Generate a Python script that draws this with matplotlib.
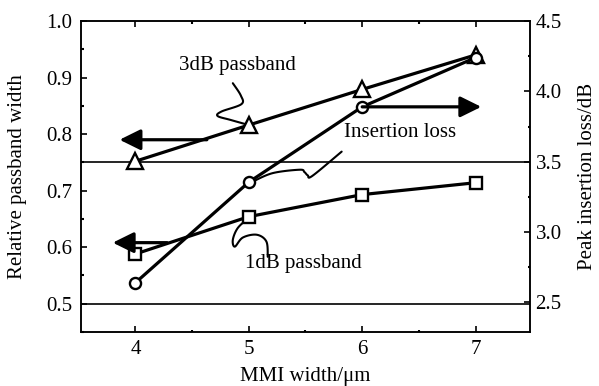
import numpy as np
import matplotlib
matplotlib.use("Agg")
import matplotlib.pyplot as plt
from matplotlib.ticker import MultipleLocator

# ---- data ----
mmi_width = [4, 5, 6, 7]
passband_3db = [0.752, 0.816, 0.879, 0.940]
passband_1db = [0.588, 0.654, 0.693, 0.714]
insertion_loss = [2.64, 3.355, 3.89, 4.24]

x_ticks = [4, 5, 6, 7]
left_ticks = [0.5, 0.6, 0.7, 0.8, 0.9, 1.0]
right_ticks = [2.5, 3.0, 3.5, 4.0, 4.5]

plt.rcParams['font.family'] = ['Liberation Serif', 'DejaVu Serif']
plt.rcParams['mathtext.fontset'] = 'stix'
FS = 15

fig = plt.figure(figsize=(5.99, 3.86), dpi=100)
ax = fig.add_axes([81/599, 1-332/386, 449/599, 311/386])
ax2 = ax.twinx()

ax.set_xlim(3.52, 7.48)
ax.set_ylim(0.45, 1.0)
ax2.set_ylim(2.29, 4.5)

for a in (ax, ax2):
    for s in a.spines.values():
        s.set_linewidth(1.1)

# horizontal reference lines
ax.axhline(0.75, color='k', lw=1.2, zorder=1)
ax.axhline(0.5, color='k', lw=1.2, zorder=1)

mk = dict(color='k', lw=2.3, mfc='white', mec='k', mew=1.7)
ax.plot(mmi_width, passband_3db, marker='^', ms=11, zorder=3, **mk)
ax.plot(mmi_width, passband_1db, marker='s', ms=8.5, zorder=3, **mk)
ax2.plot(mmi_width, insertion_loss, marker='o', ms=8, zorder=3, **mk)

# ticks
ax.set_xticks(x_ticks)
ax.set_yticks(left_ticks)
ax2.set_yticks(right_ticks)
ax.xaxis.set_minor_locator(MultipleLocator(0.5))
ax.yaxis.set_minor_locator(MultipleLocator(0.05))
ax2.yaxis.set_minor_locator(MultipleLocator(0.25))
ax.tick_params(axis='both', which='major', direction='in', length=4, width=1.2,
               labelsize=FS, top=True, pad=6)
ax.tick_params(axis='both', which='minor', direction='in', length=1.8, width=1.5, top=True)
ax.tick_params(axis='y', which='both', right=False)
ax2.tick_params(axis='y', which='major', direction='in', length=4, width=1.2,
                labelsize=FS, pad=4)
ax2.tick_params(axis='y', which='minor', direction='in', length=1.8, width=1.5)
ax.set_xticklabels([str(v) for v in x_ticks])
ax.set_yticklabels([f"{v:.1f}" for v in left_ticks])
ax2.set_yticklabels([f"{v:.1f}" for v in right_ticks])

ax.set_xlabel("MMI width/μm", fontsize=FS)
ax.set_ylabel("Relative passband width", fontsize=FS)
ax2.set_ylabel("Peak insertion loss/dB", fontsize=FS)
ax.xaxis.set_label_coords(0.5, -0.113)
ax.yaxis.set_label_coords(-0.121, 0.5)
ax2.yaxis.set_label_coords(1.108, 0.5)

# arrows
arr = dict(arrowstyle='-|>,head_length=0.85,head_width=0.42', lw=2.3, color='k',
           shrinkA=0, shrinkB=0, mutation_scale=15)
ax.annotate('', xy=(3.86, 0.79), xytext=(4.63, 0.79), arrowprops=arr, zorder=4)
ax.annotate('', xy=(3.80, 0.608), xytext=(4.28, 0.608), arrowprops=arr, zorder=4)
ax2.annotate('', xy=(7.05, 3.89), xytext=(6.0, 3.89), arrowprops=arr, zorder=4)

# labels
ax.text(4.90, 0.922, "3dB passband", fontsize=FS, ha='center', va='center')
ax.text(6.33, 0.802, "Insertion loss", fontsize=FS, ha='center', va='center')
ax.text(5.48, 0.572, "1dB passband", fontsize=FS, ha='center', va='center')

# callout curves (Catmull-Rom smoothing in axes-normalized space)
def smooth(pts, n=12):
    p = np.asarray(pts, float)
    x0, x1 = ax.get_xlim(); y0, y1 = ax.get_ylim()
    q = np.column_stack([(p[:, 0]-x0)/(x1-x0), (p[:, 1]-y0)/(y1-y0)])
    q = np.vstack([q[0], q, q[-1]])
    out = []
    for i in range(1, len(q)-2):
        P0, P1, P2, P3 = q[i-1], q[i], q[i+1], q[i+2]
        for t in np.linspace(0, 1, n, endpoint=False):
            t2, t3 = t*t, t*t*t
            out.append(0.5*((2*P1) + (-P0+P2)*t + (2*P0-5*P1+4*P2-P3)*t2 + (-P0+3*P1-3*P2+P3)*t3))
    out.append(q[-2])
    out = np.array(out)
    return x0 + out[:, 0]*(x1-x0), y0 + out[:, 1]*(y1-y0)

curve_3db = [(4.859, 0.890), (4.930, 0.868), (4.935, 0.853), (4.760, 0.840),
             (4.725, 0.832), (4.840, 0.825), (5.0, 0.816)]
curve_il = [(5.819, 0.769), (5.560, 0.726), (5.520, 0.727), (5.490, 0.733),
            (5.449, 0.737), (5.211, 0.731), (5.035, 0.716)]
curve_1db = [(5.0, 0.652), (4.903, 0.634), (4.859, 0.613), (4.877, 0.601),
             (4.947, 0.617), (5.070, 0.622), (5.155, 0.610), (5.167, 0.583)]
for c in (curve_3db, curve_il, curve_1db):
    xs, ys = smooth(c)
    ax.plot(xs, ys, color='k', lw=1.5, zorder=2, solid_capstyle='round')

fig.savefig("out.png", dpi=100)
